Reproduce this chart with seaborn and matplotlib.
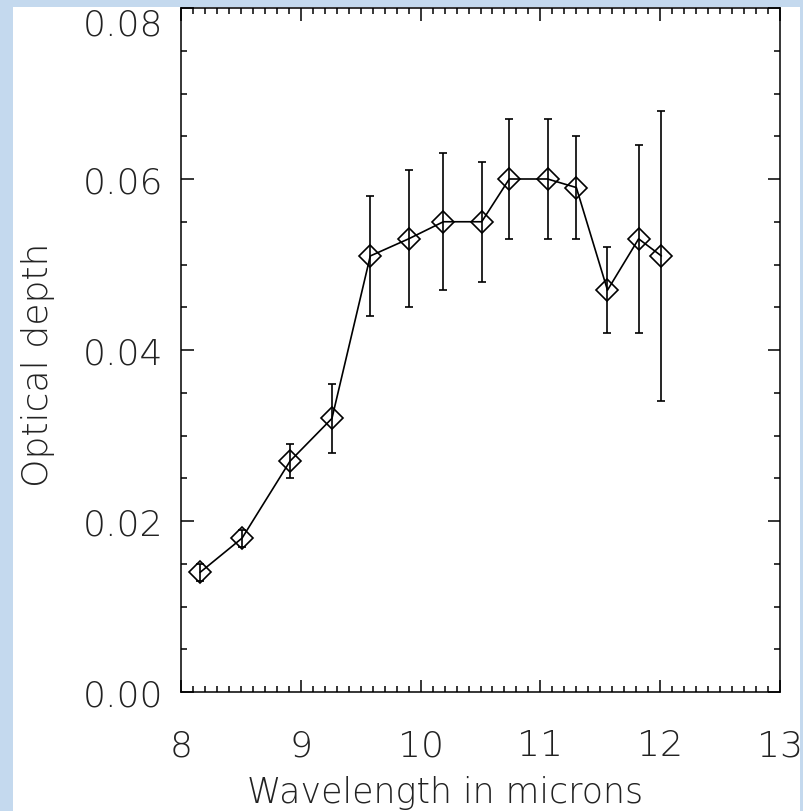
import matplotlib
matplotlib.use("Agg")
import matplotlib.pyplot as plt
from matplotlib.patches import Rectangle
from matplotlib.ticker import MultipleLocator
import seaborn as sns
import pandas as pd

wavelength = [8.16, 8.51, 8.91, 9.26, 9.58, 9.90, 10.19, 10.51, 10.74, 11.06, 11.30, 11.56, 11.82, 12.01]
optical_depth = [0.014, 0.018, 0.027, 0.032, 0.051, 0.053, 0.055, 0.055, 0.060, 0.060, 0.059, 0.047, 0.053, 0.051]
depth_error = [0.001, 0.001, 0.002, 0.004, 0.007, 0.008, 0.008, 0.007, 0.007, 0.007, 0.006, 0.005, 0.011, 0.017]
x_ticks = [8, 9, 10, 11, 12, 13]
y_ticks = [0.00, 0.02, 0.04, 0.06, 0.08]
y_tick_labels = ["0.00", "0.02", "0.04", "0.06", "0.08"]

sns.set_style("white")
plt.rcParams['font.family'] = ['DejaVu Sans']

df = pd.DataFrame({"wavelength": wavelength, "depth": optical_depth, "err": depth_error})

W, H = 804, 812
fig = plt.figure(figsize=(W / 100, H / 100), dpi=100)
fig.patch.set_facecolor("#c4d9ee")
fig.patches.append(Rectangle((13 / W, 0), (800 - 13) / W, (H - 8) / H,
                             transform=fig.transFigure, facecolor="white",
                             edgecolor="none", zorder=-10))

ax = fig.add_axes([181 / W, 1 - 693 / H, (780 - 181) / W, (693 - 9) / H])
ax.set_zorder(5)
ax.set_facecolor("white")

ax.errorbar(df["wavelength"], df["depth"], yerr=df["err"], fmt="none",
            ecolor="black", elinewidth=1.2, capsize=3, capthick=1.2, zorder=2)
sns.lineplot(data=df, x="wavelength", y="depth", ax=ax, color="black",
             linewidth=1.2, marker="D", markersize=11.5, markerfacecolor="none",
             markeredgecolor="black", markeredgewidth=1.2, zorder=3)

ax.set_xlim(8, 13)
ax.set_ylim(0, 0.08)
ax.set_xticks(x_ticks)
ax.set_xticklabels([str(t) for t in x_ticks])
ax.set_yticks(y_ticks)
ax.set_yticklabels(y_tick_labels)
ax.xaxis.set_minor_locator(MultipleLocator(0.1))
ax.yaxis.set_minor_locator(MultipleLocator(0.005))

FS = 26
for lab in ax.get_xticklabels() + ax.get_yticklabels():
    lab.set_fontfamily("DejaVu Sans")
    lab.set_fontweight("light")
    lab.set_fontsize(FS)
    lab.set_color("#222222")
ax.get_yticklabels()[-1].set_verticalalignment("top")

ax.tick_params(axis="both", which="major", direction="in", length=9, width=1.1,
               top=True, right=True, bottom=True, left=True, color="black")
ax.tick_params(axis="both", which="minor", direction="in", length=4.5, width=1.1,
               top=True, right=True, bottom=True, left=True, color="black")
ax.tick_params(axis="x", which="major", pad=26)
ax.tick_params(axis="y", which="major", pad=13)

for s in ax.spines.values():
    s.set_visible(True)
    s.set_color("black")
    s.set_linewidth(1.1)

ax.set_xlabel("Wavelength in microns", fontsize=25, fontweight="light",
              color="#222222", labelpad=9)
ax.xaxis.label.set_x((445 - 181) / (780 - 181))
ax.set_ylabel("Optical depth", fontsize=FS, fontweight="light",
              color="#222222", labelpad=20)
ax.yaxis.label.set_y((693 - 365) / (693 - 9))

fig.savefig("out.png", dpi=100, facecolor=fig.get_facecolor())
